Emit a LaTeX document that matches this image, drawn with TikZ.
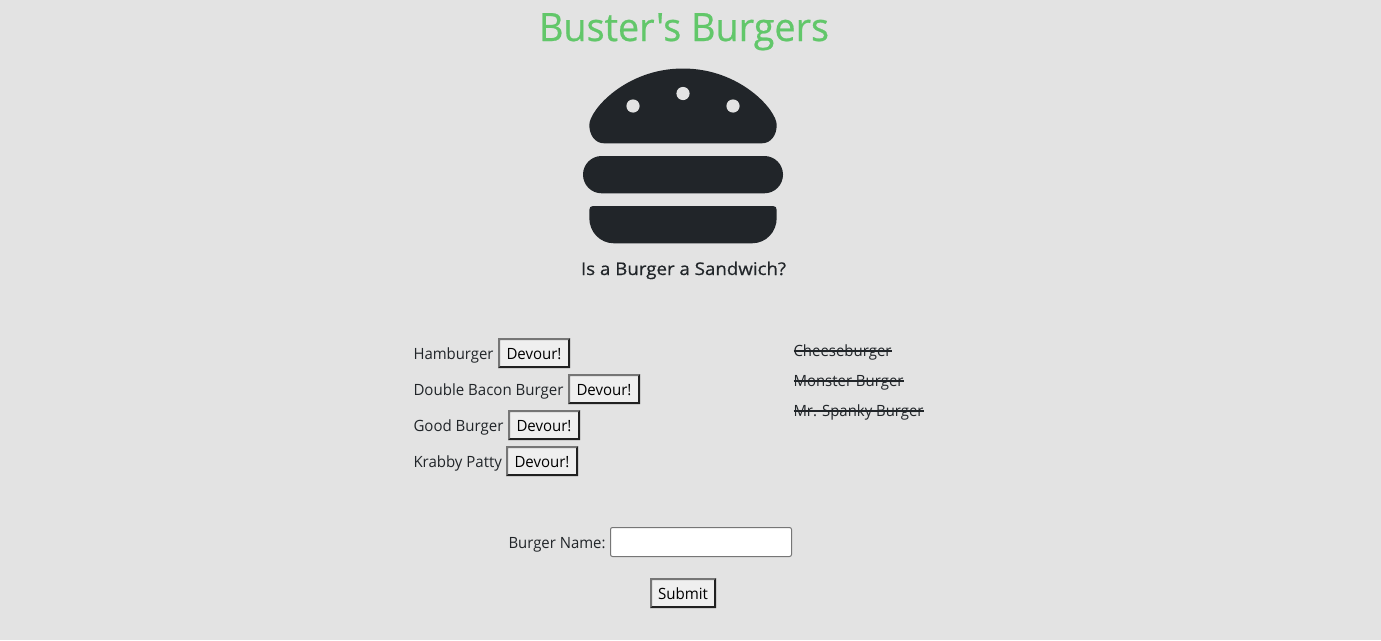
\documentclass[tikz,border=0pt]{standalone}
\usepackage{fontspec}
\usepackage{graphicx}
\setmainfont{Open Sans}[Ligatures=TeXOff]
\newfontfamily\semifont{Open Sans}[Ligatures=TeXOff,FakeBold=0.6]
\definecolor{pagebg}{HTML}{E3E3E3}
\definecolor{ink}{HTML}{212529}
\definecolor{titlegreen}{HTML}{62C76A}
\definecolor{btnface}{HTML}{EFEFEF}
\definecolor{btnlight}{HTML}{767676}
\definecolor{btndark}{HTML}{212121}
\newcommand{\fitw}[2]{\resizebox{#1pt}{\height}{#2}}
\tikzset{
  txt/.style={inner sep=0pt,outer sep=0pt,anchor=base west,text=ink,font=\fontsize{15.5}{18}\selectfont},
  btntxt/.style={inner sep=0pt,outer sep=0pt,anchor=base,text=black,font=\fontsize{15.5}{18}\selectfont},
  burger/.style={fill=ink,draw=none},
  seed/.style={fill=pagebg,draw=none},
  strike/.style={draw=ink,line width=1.1pt}
}
% name, x1, y1, x2, y2, text width, text
\newcommand{\btn}[7]{%
  \fill[btnface] (#2,#3) rectangle (#4,#5);
  \fill[btnlight] (#2,#3) -- (#4,#3) -- (#4-2,#3+2) -- (#2+2,#3+2) -- (#2+2,#5-2) -- (#2,#5) -- cycle;
  \fill[btndark] (#4,#5) -- (#2,#5) -- (#2+2,#5-2) -- (#4-2,#5-2) -- (#4-2,#3+2) -- (#4,#3) -- cycle;
  \node[btntxt] (#1) at ({(#2+#4)/2},#3+21) {\fitw{#6}{#7}};
}
\begin{document}
\begin{tikzpicture}[x=1pt,y=-1pt]
\useasboundingbox (0,0) rectangle (1381,640);
\fill[pagebg] (0,0) rectangle (1381,640);
\node[inner sep=0pt,anchor=base,text=titlegreen,font=\fontsize{39}{44}\semifont] (title) at (684,41) {\fitw{290}{Buster's Burgers}};
% top bun
\fill[burger] (604,143.3) -- (762,143.3)
  .. controls (771,143.3) and (776.7,135) .. (776.7,125)
  .. controls (776.7,110) and (740,68.5) .. (683,68.5)
  .. controls (626,68.5) and (589.3,110) .. (589.3,125)
  .. controls (589.3,135) and (595,143.3) .. (604,143.3) -- cycle;
\fill[seed] (633,106) circle (6.6);
\fill[seed] (683,93.5) circle (6.6);
\fill[seed] (733,106) circle (6.6);
% patty
\fill[burger,rounded corners=18.6pt] (583,156) rectangle (783,193.3);
% bottom bun
\fill[burger] (593,206) -- (773,206)
  .. controls (775.5,206) and (776.7,207.5) .. (776.7,210) -- (776.7,218)
  .. controls (776.7,232) and (766,243.3) .. (752,243.3) -- (614,243.3)
  .. controls (600,243.3) and (589.3,232) .. (589.3,218) -- (589.3,210)
  .. controls (589.3,207.5) and (590.5,206) .. (593,206) -- cycle;
\node[inner sep=0pt,anchor=base,text=ink,font=\fontsize{17.5}{20}\semifont] (question) at (683.5,275) {\fitw{205}{Is a Burger a Sandwich?}};
% left list
\node[txt] (i1) at (413.5,359) {\fitw{80}{Hamburger}};
\node[txt] (i2) at (413.5,395) {\fitw{150}{Double Bacon Burger}};
\node[txt] (i3) at (413.5,431) {\fitw{90}{Good Burger}};
\node[txt] (i4) at (413.5,467) {\fitw{88.5}{Krabby Patty}};
\btn{b1}{498}{338}{570}{368}{55}{Devour!}
\btn{b2}{568}{374}{640}{404}{55}{Devour!}
\btn{b3}{508}{410}{580}{440}{55}{Devour!}
\btn{b4}{506}{446}{578}{476}{55}{Devour!}
% right list
\node[txt] (d1) at (793.5,356) {\fitw{98}{Cheeseburger}};
\node[txt] (d2) at (793.5,386) {\fitw{110}{Monster Burger}};
\node[txt] (d3) at (793.5,416) {\fitw{130}{Mr. Spanky Burger}};
\draw[strike] ([yshift=5pt]d1.base west) -- ([yshift=5pt]d1.base east);
\draw[strike] ([yshift=5pt]d2.base west) -- ([yshift=5pt]d2.base east);
\draw[strike] ([yshift=5pt]d3.base west) -- ([yshift=5pt]d3.base east);
% form
\node[txt] (lab) at (508.5,548) {\fitw{97}{Burger Name:}};
\draw[draw=btnlight,fill=white,line width=1pt,rounded corners=2pt] (610.5,527.5) rectangle (791.5,556.5) node[inner sep=0pt,pos=.5] (field) {};
\btn{sub}{650}{578}{716}{608}{50}{Submit}
\end{tikzpicture}
\end{document}
